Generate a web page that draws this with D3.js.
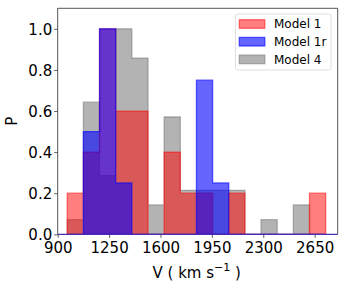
<!DOCTYPE html>
<html lang="en">
<head>
<meta charset="utf-8">
<title>Velocity histograms</title>
<script src="https://d3js.org/d3.v7.min.js"></script>
<style>
  body { margin: 0; background: #fff; }
  text { font-family: "DejaVu Sans", sans-serif; fill: #000; }
</style>
</head>
<body>
<div id="chart"></div>
<script>
// bin edges (km/s) and normalised histogram heights per model
var binEdges = [965, 1075, 1185, 1295, 1405, 1515, 1625, 1735, 1845, 1955, 2065, 2175, 2285, 2395, 2505, 2615, 2725];
var model1  = [0.2, 0.4, 1.0, 0.6, 0.6, 0, 0.4, 0.2, 0.2, 0, 0.2, 0, 0, 0, 0, 0.2];
var model1r = [0, 0.5, 1.0, 0.25, 0, 0, 0, 0, 0.75, 0.25, 0, 0, 0, 0, 0, 0];
var model4  = [0.071, 0.643, 0.286, 1.0, 0.857, 0.143, 0.571, 0.214, 0.214, 0.214, 0.214, 0, 0.071, 0, 0.143, 0];
var xTicks = [900, 1250, 1600, 1950, 2300, 2650];
var yTicks = [0, 0.2, 0.4, 0.6, 0.8, 1.0];
var names = ["Model 1", "Model 1r", "Model 4"];

var W = 346, H = 284;
var margin = {top: 8.3, right: 8.3, bottom: 49.7, left: 57.7};
var w = W - margin.left - margin.right,
    h = H - margin.top - margin.bottom;

var svg = d3.select("#chart").append("svg")
    .attr("width", W)
    .attr("height", H);

var g = svg.append("g")
    .attr("transform", `translate(${margin.left},${margin.top})`);

var x = d3.scaleLinear().domain([900, 2807]).range([0, w]);
var y = d3.scaleLinear().domain([0, 1.1]).range([h, 0]);

var series = [
  {name: "Model 4",  vals: model4,  color: "rgb(128,128,128)", op: 0.6},
  {name: "Model 1",  vals: model1,  color: "rgb(255,0,0)",     op: 0.5},
  {name: "Model 1r", vals: model1r, color: "rgb(0,0,255)",     op: 0.6}
];

// stepfilled outline for a histogram
function stepPath(vals) {
  var pts = [[binEdges[0], 0]];
  vals.forEach(function(v, i) {
    pts.push([binEdges[i], v]);
    pts.push([binEdges[i + 1], v]);
  });
  pts.push([binEdges[binEdges.length - 1], 0]);
  return d3.line().x(d => x(d[0])).y(d => y(d[1]))(pts) + "Z";
}

g.selectAll("path.hist")
  .data(series)
  .enter().append("path")
  .attr("class", "hist")
  .attr("d", d => stepPath(d.vals))
  .attr("fill", d => d.color)
  .attr("fill-opacity", d => d.op)
  .attr("stroke", d => d.color)
  .attr("stroke-opacity", d => d.op)
  .attr("stroke-width", 1.3)
  .attr("stroke-linejoin", "miter");

// axes
var xAxis = d3.axisBottom(x).tickValues(xTicks).tickSize(3.5).tickPadding(3.5).tickFormat(d3.format("d"));
var yAxis = d3.axisLeft(y).tickValues(yTicks).tickSize(3.5).tickPadding(2).tickFormat(d3.format(".1f"));

var gx = g.append("g").attr("transform", `translate(0,${h})`).call(xAxis);
var gy = g.append("g").call(yAxis);
[gx, gy].forEach(function(a) {
  a.select(".domain").remove();
  a.selectAll(".tick line").attr("stroke", "#333").attr("stroke-width", 0.8);
  a.selectAll(".tick text").attr("font-size", 15).attr("fill", "#000");
});
gx.selectAll(".tick text").attr("dy", "0.78em");
gy.selectAll(".tick text").attr("dy", "0.36em");

// frame
g.append("path")
  .attr("d", `M0,${h}V0H${w}V${h}`)
  .attr("fill", "none")
  .attr("stroke", "#444")
  .attr("stroke-width", 0.9);
g.append("line")
  .attr("x1", 0).attr("x2", w).attr("y1", h).attr("y2", h)
  .attr("stroke", "#4a2cb0")
  .attr("stroke-width", 1.3);

// labels
var xl = svg.append("text")
  .attr("x", margin.left + w / 2 - 1)
  .attr("y", 277.5)
  .attr("text-anchor", "middle")
  .attr("font-size", 15);
xl.append("tspan").text("V ( km s");
xl.append("tspan").attr("dy", -6.5).attr("font-size", 11).text("\u22121");
xl.append("tspan").attr("dy", 6.5).text(" )");

svg.append("text")
  .attr("transform", `translate(17,${margin.top + h / 2}) rotate(-90)`)
  .attr("text-anchor", "middle")
  .attr("font-size", 15)
  .text("P");

// legend
var leg = svg.append("g").attr("transform", "translate(235.5,14)");
leg.append("rect")
  .attr("width", 95.5).attr("height", 56)
  .attr("rx", 2.5)
  .attr("fill", "#fff").attr("fill-opacity", 0.8)
  .attr("stroke", "#d6d6d6").attr("stroke-width", 0.8);
var order = [series[1], series[2], series[0]];
var items = leg.selectAll("g.item")
  .data(order)
  .enter().append("g")
  .attr("class", "item")
  .attr("transform", (d, i) => `translate(0,${10 + i * 17.7})`);
items.append("rect")
  .attr("x", 3.8).attr("y", -4.3)
  .attr("width", 25.5).attr("height", 8.6)
  .attr("fill", d => d.color).attr("fill-opacity", d => d.op)
  .attr("stroke", d => d.color).attr("stroke-opacity", d => d.op)
  .attr("stroke-width", 1.3);
items.append("text")
  .attr("x", 38.5)
  .attr("dy", "0.36em")
  .attr("font-size", 12)
  .text(d => d.name);
</script>
</body>
</html>
